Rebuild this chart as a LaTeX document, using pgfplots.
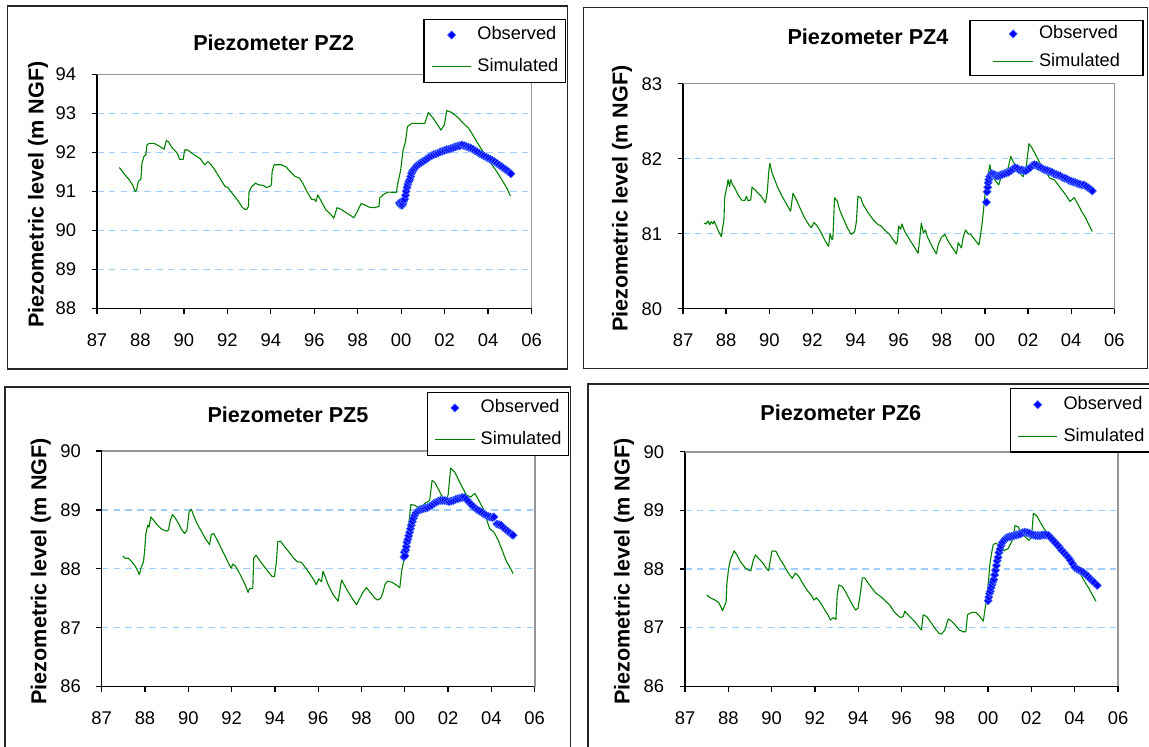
\documentclass[border=0pt]{standalone}
\usepackage{fontspec}
\setmainfont{Liberation Sans}
\usepackage{pgfplots}
\pgfplotsset{compat=1.18}

\definecolor{simgreen}{RGB}{0,128,0}
\definecolor{obsblue}{RGB}{0,0,255}
\definecolor{obsedge}{RGB}{70,110,255}
\definecolor{gridblue}{RGB}{160,205,255}
\definecolor{borderg}{RGB}{150,150,150}

\pgfplotsset{
  pz/.style={
    scale only axis, anchor=south west,
    xmin=0, xmax=20, xtick={0,2,...,20},
    xticklabels={87,88,90,92,94,96,98,00,02,04,06},
    axis x line*=bottom, axis y line*=left,
    axis line style={line width=0.65pt, black},
    tick style={line width=0.65pt, black},
    tick align=outside, major tick length=2.75pt,
    ymajorgrids,
    major grid style={line width=0.6pt, gridblue, dash pattern=on 3.3pt off 2.6pt},
    tick label style={font=\fontsize{9.2}{10}\selectfont},
    /pgf/number format/assume math mode=true,
    xticklabel style={anchor=center, yshift=-13pt},
    yticklabel style={anchor=east, inner sep=0pt, xshift=-7.5pt},
    clip=false,
    reverse legend,
    legend cell align=left,
    legend style={anchor=north west, draw=black, fill=white, line width=0.6pt,
      inner xsep=3.6pt, inner ysep=3.7pt, row sep=7.4pt, column sep=2.75pt,
      font=\fontsize{9.1}{10}\selectfont,
      nodes={inner sep=0pt, text height=6.6pt, text depth=1.8pt}},
    after end axis/.code={
      \draw[borderg, line width=0.8pt] (rel axis cs:0,1) -- (rel axis cs:1,1) -- (rel axis cs:1,0);
    },
  },
  sim/.style={simgreen, line width=0.55pt, line join=round,
    legend image code/.code={\draw[##1] (0pt,0pt) -- (19.75pt,0pt);}},
  obs/.style={only marks, mark=square*, mark size=1.45pt,
    mark options={rotate=45, fill=obsblue, draw=obsedge, line width=0.3pt},
    legend image code/.code={\draw[mark repeat=2,mark phase=2,##1] plot coordinates {(0pt,0pt) (9.875pt,0pt) (19.75pt,0pt)};}},
}

\newcommand{\ttl}{\fontsize{10.8}{12}\selectfont\bfseries}

\begin{document}
\begin{tikzpicture}[x=0.5pt, y=-0.5pt]
\useasboundingbox (0,0) rectangle (1149,747);
\clip (0,0) rectangle (1149,747);

% panel frames
\draw[line width=0.7pt, black!85] (7.5,6) rectangle (567.5,369);
\draw[line width=0.7pt, black!85] (583.5,7.5) rectangle (1147.5,368.5);
\draw[line width=0.7pt, black!85] (5,387) rectangle (570.5,760);
\draw[line width=0.7pt, black!85] (588,384) rectangle (1160,760);

% titles and axis labels
\node[font=\ttl] at (273.7,42.8) {Piezometer PZ2};
\node[font=\ttl] at (868,37) {Piezometer PZ4};
\node[font=\ttl] at (288,415) {Piezometer PZ5};
\node[font=\ttl] at (840.8,412.3) {Piezometer PZ6};
\node[font=\ttl, rotate=90] at (38,194.5) {Piezometric level (m NGF)};
\node[font=\ttl, rotate=90] at (622,198.7) {Piezometric level (m NGF)};
\node[font=\ttl, rotate=90] at (40.7,571.3) {Piezometric level (m NGF)};
\node[font=\ttl, rotate=90] at (624,571.5) {Piezometric level (m NGF)};

% ---------------- PZ2 ----------------
\begin{axis}[pz, at={(48.5pt,-154.15pt)}, width=217.25pt, height=117pt,
  ymin=88, ymax=94, ytick={88,89,...,94},
  legend style={at={(0.7514,1.238)}}]
\addplot[sim] coordinates {(1.03,91.61)(1.26,91.44)(1.49,91.29)(1.64,91.16)(1.76,90.99)(1.82,91.03)(1.90,91.25)(2.02,91.31)(2.07,91.72)(2.17,91.91)(2.25,91.93)(2.30,92.19)(2.40,92.23)(2.63,92.23)(2.86,92.16)(3.09,92.08)(3.19,92.30)(3.29,92.27)(3.44,92.13)(3.59,92.04)(3.70,91.97)(3.80,91.82)(3.97,91.82)(4.03,92.06)(4.18,92.06)(4.38,91.97)(4.61,91.89)(4.76,91.83)(4.96,91.68)(5.11,91.76)(5.22,91.70)(5.37,91.59)(5.57,91.42)(5.75,91.25)(5.90,91.12)(6.02,91.10)(6.08,91.05)(6.28,90.91)(6.51,90.74)(6.69,90.59)(6.78,90.54)(6.89,90.54)(6.97,90.61)(7.00,90.99)(7.12,91.12)(7.30,91.21)(7.42,91.17)(7.65,91.15)(7.80,91.10)(7.95,91.12)(8.03,91.17)(8.06,91.50)(8.15,91.68)(8.49,91.68)(8.71,91.62)(8.94,91.48)(9.12,91.38)(9.32,91.34)(9.47,91.21)(9.63,91.03)(9.78,90.88)(9.89,90.79)(10.01,90.79)(10.08,90.74)(10.16,90.91)(10.31,90.76)(10.54,90.52)(10.74,90.42)(10.90,90.31)(11.05,90.58)(11.23,90.54)(11.47,90.45)(11.70,90.37)(11.82,90.32)(11.98,90.48)(12.16,90.69)(12.31,90.65)(12.55,90.59)(12.75,90.58)(12.98,90.61)(13.01,90.82)(13.16,90.91)(13.40,90.98)(13.78,90.97)(13.83,91.16)(13.98,91.55)(14.09,92.06)(14.20,92.27)(14.29,92.66)(14.48,92.74)(15.09,92.74)(15.25,93.02)(15.48,92.87)(15.68,92.70)(15.83,92.57)(15.99,92.70)(16.10,93.07)(16.33,93.02)(16.60,92.90)(16.87,92.74)(17.10,92.62)(17.25,92.49)(17.48,92.27)(17.72,92.06)(17.95,91.85)(18.18,91.68)(18.41,91.50)(18.64,91.29)(18.87,91.08)(19.03,90.88)};
\addlegendentry{Simulated}
\addplot[obs] coordinates {(13.92,90.70)(13.96,90.66)(14.00,90.72)(14.04,90.64)(14.08,90.68)(14.12,90.75)(14.16,90.80)(14.20,90.90)(14.23,91.00)(14.27,91.10)(14.31,91.18)(14.35,91.25)(14.40,91.30)(14.44,91.38)(14.48,91.46)(14.53,91.52)(14.58,91.56)(14.64,91.60)(14.70,91.64)(14.77,91.68)(14.85,91.71)(14.93,91.74)(15.01,91.77)(15.10,91.80)(15.20,91.84)(15.30,91.88)(15.40,91.91)(15.50,91.94)(15.60,91.96)(15.70,91.98)(15.80,92.01)(15.90,92.03)(16.00,92.05)(16.10,92.07)(16.20,92.08)(16.30,92.10)(16.40,92.12)(16.50,92.14)(16.60,92.16)(16.70,92.17)(16.80,92.19)(16.90,92.17)(17.00,92.15)(17.10,92.13)(17.20,92.11)(17.30,92.08)(17.40,92.04)(17.50,92.01)(17.60,91.97)(17.70,91.94)(17.80,91.91)(17.90,91.88)(18.00,91.85)(18.10,91.82)(18.20,91.79)(18.30,91.76)(18.40,91.72)(18.50,91.68)(18.60,91.64)(18.70,91.60)(18.80,91.56)(18.90,91.52)(19.00,91.48)(19.05,91.45)};
\addlegendentry{Observed}
\end{axis}

% ---------------- PZ4 ----------------
\begin{axis}[pz, at={(341.5pt,-154.35pt)}, width=215.65pt, height=112.5pt,
  ymin=80, ymax=83, ytick={80,81,82,83},
  legend style={at={(0.6638,1.2844)}, inner xsep=11.5pt, inner ysep=2.6pt, row sep=5.6pt}]
\addplot[sim] coordinates {(0.97,81.14)(1.08,81.13)(1.16,81.17)(1.24,81.12)(1.31,81.16)(1.39,81.13)(1.44,81.17)(1.55,81.10)(1.65,81.03)(1.78,80.96)(1.82,81.05)(1.90,81.19)(1.93,81.48)(2.04,81.63)(2.09,81.72)(2.16,81.63)(2.21,81.72)(2.29,81.66)(2.40,81.61)(2.55,81.52)(2.71,81.45)(2.86,81.44)(2.94,81.50)(3.01,81.44)(3.14,81.45)(3.20,81.62)(3.32,81.59)(3.48,81.54)(3.63,81.50)(3.82,81.41)(3.91,81.56)(3.97,81.81)(4.03,81.94)(4.13,81.81)(4.25,81.72)(4.40,81.61)(4.59,81.50)(4.79,81.40)(4.99,81.30)(5.10,81.54)(5.26,81.45)(5.46,81.32)(5.64,81.21)(5.83,81.12)(5.95,81.08)(6.07,81.15)(6.23,81.10)(6.41,81.01)(6.60,80.90)(6.75,80.83)(6.82,81.00)(6.91,80.92)(6.95,80.94)(7.03,81.48)(7.16,81.43)(7.26,81.32)(7.42,81.21)(7.62,81.08)(7.80,80.99)(7.96,81.03)(8.04,81.16)(8.11,81.50)(8.24,81.48)(8.35,81.39)(8.58,81.28)(8.81,81.19)(9.04,81.12)(9.16,81.11)(9.35,81.05)(9.58,80.99)(9.74,80.92)(9.89,80.86)(9.94,80.90)(10.00,81.10)(10.09,81.06)(10.15,81.13)(10.28,81.03)(10.51,80.92)(10.71,80.83)(10.90,80.74)(10.98,80.94)(11.05,81.14)(11.15,81.01)(11.24,81.05)(11.33,80.96)(11.55,80.83)(11.75,80.73)(11.83,80.85)(11.98,80.95)(12.14,80.99)(12.26,80.92)(12.45,80.83)(12.68,80.73)(12.76,80.88)(12.91,80.81)(12.99,80.95)(13.10,81.05)(13.22,81.00)(13.34,80.99)(13.53,80.92)(13.72,80.85)(13.81,81.01)(13.87,81.14)(13.93,81.30)(14.02,81.57)(14.12,81.74)(14.23,81.92)(14.30,81.79)(14.46,81.72)(14.64,81.65)(14.74,81.74)(14.92,81.79)(15.08,81.88)(15.20,82.03)(15.31,81.96)(15.46,81.88)(15.62,81.81)(15.77,81.76)(15.93,81.92)(16.04,82.20)(16.19,82.14)(16.39,82.03)(16.55,81.94)(16.70,81.88)(16.90,81.79)(17.01,81.74)(17.21,81.72)(17.40,81.65)(17.55,81.59)(17.74,81.52)(17.94,81.43)(18.14,81.48)(18.30,81.40)(18.48,81.30)(18.67,81.21)(18.82,81.12)(18.98,81.03)};
\addlegendentry{Simulated}
\addplot[obs] coordinates {(14.07,81.42)(14.10,81.56)(14.13,81.62)(14.15,81.68)(14.18,81.72)(14.22,81.76)(14.27,81.78)(14.32,81.80)(14.40,81.79)(14.48,81.78)(14.56,81.77)(14.64,81.77)(14.72,81.78)(14.80,81.79)(14.90,81.80)(15.00,81.81)(15.10,81.82)(15.20,81.84)(15.30,81.86)(15.40,81.88)(15.50,81.87)(15.60,81.85)(15.70,81.85)(15.80,81.84)(15.90,81.84)(16.00,81.86)(16.10,81.88)(16.20,81.91)(16.30,81.92)(16.40,81.91)(16.50,81.89)(16.60,81.88)(16.70,81.86)(16.80,81.85)(16.90,81.84)(17.00,81.83)(17.10,81.82)(17.20,81.80)(17.30,81.79)(17.40,81.78)(17.50,81.77)(17.60,81.75)(17.70,81.74)(17.80,81.73)(17.90,81.71)(18.00,81.70)(18.10,81.69)(18.20,81.68)(18.30,81.67)(18.40,81.66)(18.50,81.65)(18.60,81.65)(18.70,81.63)(18.80,81.61)(18.90,81.59)(18.98,81.57)};
\addlegendentry{Observed}
\end{axis}

% ---------------- PZ5 ----------------
\begin{axis}[pz, at={(50.85pt,-343.3pt)}, width=216.5pt, height=117.8pt,
  ymin=86, ymax=90, ytick={86,87,...,90},
  legend style={at={(0.7508,1.2525)}}]
\addplot[sim] coordinates {(0.97,88.22)(1.08,88.18)(1.23,88.18)(1.39,88.12)(1.54,88.05)(1.67,87.96)(1.74,87.90)(1.82,88.02)(1.93,88.12)(1.98,88.29)(2.04,88.60)(2.13,88.74)(2.19,88.71)(2.27,88.88)(2.39,88.83)(2.55,88.75)(2.78,88.67)(3.01,88.64)(3.09,88.66)(3.16,88.81)(3.27,88.92)(3.40,88.86)(3.55,88.77)(3.70,88.66)(3.83,88.60)(3.94,88.66)(4.04,88.97)(4.14,89.01)(4.24,88.91)(4.40,88.77)(4.60,88.64)(4.78,88.52)(4.98,88.41)(5.06,88.58)(5.17,88.60)(5.32,88.50)(5.52,88.35)(5.71,88.21)(5.86,88.09)(5.99,88.01)(6.05,88.08)(6.17,88.05)(6.33,87.95)(6.48,87.84)(6.64,87.72)(6.76,87.60)(6.82,87.66)(6.98,87.67)(7.02,88.18)(7.13,88.23)(7.28,88.15)(7.48,88.05)(7.69,87.95)(7.87,87.87)(7.98,87.87)(8.07,88.12)(8.13,88.46)(8.26,88.47)(8.46,88.37)(8.64,88.29)(8.87,88.18)(9.03,88.12)(9.23,88.11)(9.41,88.02)(9.60,87.92)(9.80,87.81)(9.91,87.73)(10.03,87.83)(10.15,87.78)(10.22,87.96)(10.31,87.88)(10.46,87.73)(10.69,87.56)(10.92,87.45)(11.08,87.81)(11.20,87.73)(11.38,87.61)(11.62,87.47)(11.77,87.39)(11.88,87.47)(12.08,87.61)(12.23,87.68)(12.38,87.61)(12.62,87.50)(12.74,87.47)(12.89,87.50)(13.00,87.61)(13.08,87.73)(13.20,87.79)(13.42,87.77)(13.62,87.72)(13.77,87.68)(13.85,87.95)(13.97,88.18)(14.08,88.54)(14.18,88.74)(14.28,89.09)(14.46,89.08)(14.69,89.02)(14.92,89.11)(15.15,89.16)(15.26,89.50)(15.38,89.47)(15.54,89.36)(15.69,89.25)(15.88,89.15)(16.00,89.25)(16.12,89.71)(16.31,89.64)(16.46,89.53)(16.65,89.39)(16.85,89.25)(17.05,89.22)(17.23,89.28)(17.38,89.19)(17.62,89.02)(17.77,88.85)(17.92,88.68)(18.12,88.62)(18.31,88.49)(18.49,88.32)(18.69,88.13)(18.89,88.00)(19.00,87.92)};
\addlegendentry{Simulated}
\addplot[obs] coordinates {(13.96,88.20)(13.98,88.28)(14.01,88.22)(14.04,88.32)(14.07,88.38)(14.10,88.45)(14.14,88.50)(14.18,88.56)(14.22,88.62)(14.26,88.68)(14.30,88.74)(14.35,88.80)(14.40,88.86)(14.46,88.91)(14.52,88.95)(14.60,88.98)(14.68,89.00)(14.76,89.01)(14.85,89.02)(14.95,89.03)(15.05,89.04)(15.15,89.06)(15.25,89.08)(15.35,89.11)(15.45,89.13)(15.55,89.15)(15.65,89.16)(15.75,89.16)(15.85,89.16)(15.95,89.15)(16.05,89.14)(16.15,89.15)(16.25,89.16)(16.35,89.18)(16.45,89.19)(16.55,89.20)(16.65,89.21)(16.75,89.21)(16.85,89.18)(16.95,89.14)(17.05,89.10)(17.15,89.06)(17.25,89.03)(17.35,89.00)(17.45,88.98)(17.55,88.96)(17.65,88.93)(17.75,88.91)(17.85,88.89)(17.95,88.88)(18.05,88.87)(18.12,88.88)(18.25,88.76)(18.35,88.75)(18.45,88.74)(18.55,88.70)(18.65,88.67)(18.75,88.64)(18.85,88.61)(18.95,88.58)(19.00,88.57)};
\addlegendentry{Observed}
\end{axis}

% ---------------- PZ6 ----------------
\begin{axis}[pz, at={(342.5pt,-343.15pt)}, width=216.5pt, height=117.3pt,
  ymin=86, ymax=90, ytick={86,87,...,90},
  legend style={at={(0.7497,1.2703)}}]
\addplot[sim] coordinates {(1.00,87.56)(1.16,87.51)(1.39,87.47)(1.55,87.43)(1.65,87.36)(1.73,87.29)(1.81,87.36)(1.90,87.44)(1.93,87.73)(2.01,88.00)(2.09,88.15)(2.16,88.21)(2.27,88.31)(2.40,88.24)(2.55,88.13)(2.78,88.02)(2.94,87.98)(3.04,87.97)(3.14,88.13)(3.25,88.24)(3.40,88.18)(3.60,88.10)(3.76,88.01)(3.86,87.97)(3.94,88.15)(4.02,88.31)(4.20,88.30)(4.37,88.18)(4.56,88.07)(4.74,87.95)(4.95,87.84)(5.10,87.93)(5.26,87.87)(5.46,87.74)(5.64,87.64)(5.87,87.53)(5.95,87.47)(6.07,87.51)(6.23,87.44)(6.41,87.33)(6.60,87.22)(6.72,87.13)(6.85,87.17)(6.97,87.14)(7.03,87.56)(7.11,87.73)(7.26,87.70)(7.42,87.61)(7.57,87.50)(7.73,87.39)(7.88,87.30)(7.99,87.33)(8.11,87.61)(8.19,87.85)(8.30,87.85)(8.42,87.78)(8.58,87.70)(8.81,87.59)(9.04,87.53)(9.27,87.45)(9.47,87.38)(9.66,87.27)(9.85,87.20)(9.97,87.17)(10.09,87.20)(10.15,87.28)(10.35,87.20)(10.62,87.10)(10.85,86.99)(10.92,86.96)(11.00,87.22)(11.16,87.19)(11.34,87.10)(11.54,86.99)(11.74,86.90)(11.85,86.89)(12.00,86.96)(12.16,87.15)(12.31,87.11)(12.47,87.05)(12.67,86.96)(12.85,86.93)(12.97,86.93)(13.05,87.22)(13.24,87.26)(13.44,87.26)(13.62,87.19)(13.78,87.11)(13.85,87.30)(13.93,87.47)(14.01,87.76)(14.08,88.07)(14.16,88.27)(14.24,88.42)(14.39,88.44)(14.55,88.35)(14.73,88.31)(14.93,88.35)(15.16,88.52)(15.24,88.74)(15.39,88.72)(15.50,88.63)(15.70,88.55)(15.90,88.49)(16.01,88.55)(16.09,88.95)(16.24,88.91)(16.39,88.81)(16.58,88.69)(16.78,88.58)(16.98,88.49)(17.16,88.41)(17.40,88.31)(17.63,88.21)(17.86,88.11)(18.06,88.02)(18.24,87.93)(18.47,87.78)(18.67,87.66)(18.86,87.53)(18.98,87.45)};
\addlegendentry{Simulated}
\addplot[obs] coordinates {(14.00,87.46)(14.03,87.52)(14.06,87.58)(14.10,87.62)(14.14,87.68)(14.18,87.73)(14.22,87.78)(14.26,87.82)(14.30,87.90)(14.34,87.98)(14.38,88.06)(14.42,88.14)(14.46,88.20)(14.50,88.28)(14.55,88.34)(14.60,88.40)(14.66,88.45)(14.72,88.48)(14.80,88.52)(14.90,88.54)(15.00,88.55)(15.10,88.56)(15.20,88.57)(15.30,88.58)(15.40,88.59)(15.50,88.60)(15.60,88.62)(15.70,88.63)(15.80,88.62)(15.90,88.61)(16.00,88.59)(16.10,88.58)(16.20,88.57)(16.30,88.57)(16.40,88.57)(16.50,88.58)(16.60,88.58)(16.70,88.58)(16.80,88.57)(16.90,88.53)(17.00,88.49)(17.10,88.45)(17.20,88.41)(17.30,88.37)(17.40,88.32)(17.50,88.28)(17.60,88.24)(17.70,88.20)(17.80,88.15)(17.90,88.09)(18.00,88.03)(18.10,88.00)(18.20,87.98)(18.30,87.96)(18.40,87.94)(18.50,87.91)(18.60,87.88)(18.70,87.84)(18.80,87.80)(18.90,87.77)(19.04,87.72)};
\addlegendentry{Observed}
\end{axis}
\end{tikzpicture}
\end{document}
